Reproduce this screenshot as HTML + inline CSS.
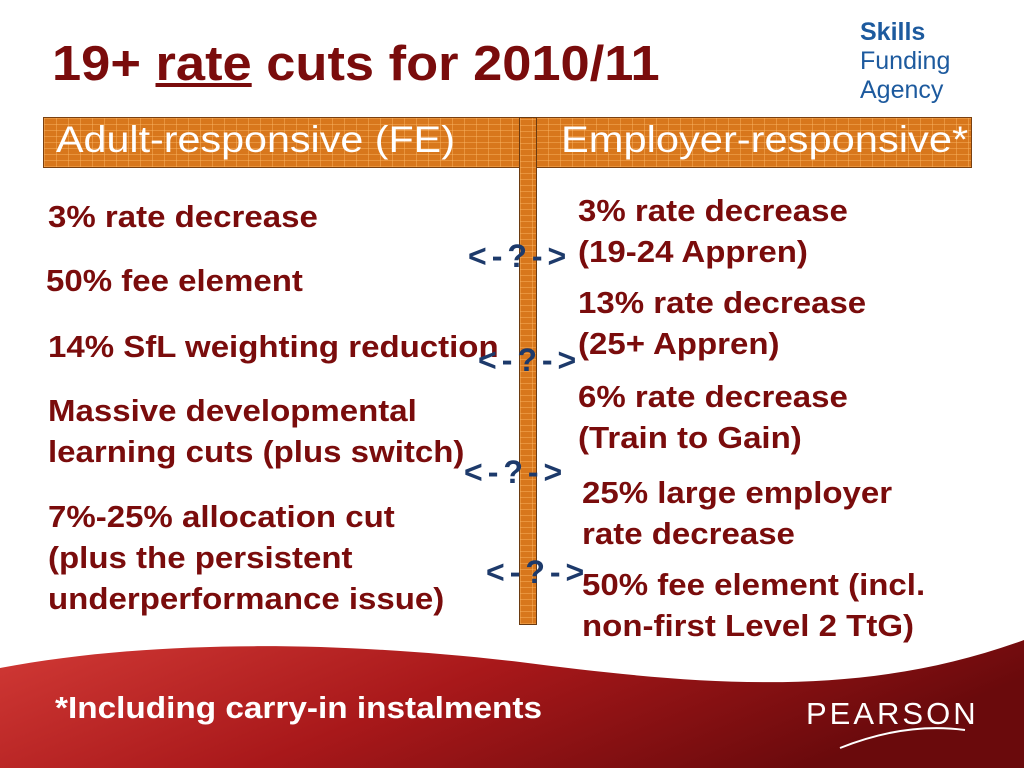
<!DOCTYPE html>
<html><head><meta charset="utf-8"><style>
body{margin:0;width:1024px;height:768px;overflow:hidden;background:#fff;position:relative;font-family:"Liberation Sans",sans-serif}
.t{position:absolute;color:#7a0c0c;font-weight:bold;font-size:31px;line-height:41px;white-space:nowrap;transform:scaleX(1.065);transform-origin:left top}
.q{position:absolute;color:#1d3a6b;font-weight:bold;font-size:32px;white-space:nowrap;letter-spacing:5px}
.brick{background-color:#d8771c;background-image:repeating-linear-gradient(0deg,rgba(255,190,110,.4) 0 1px,transparent 1px 6px),repeating-linear-gradient(90deg,rgba(255,190,110,.4) 0 1px,transparent 1px 12px)}
</style></head><body>
<div style="position:absolute;left:52px;top:36px;font-size:49px;font-weight:bold;color:#7a0c0c;white-space:nowrap;transform:scaleX(1.07);transform-origin:left top">19+ <span style="text-decoration:underline">rate</span> cuts for 2010/11</div>
<div style="position:absolute;left:860px;top:18px;color:#1d5a9e;font-size:25px;line-height:29px"><b>Skills</b><br>Funding<br>Agency</div>
<div class="brick" style="position:absolute;left:43px;top:117px;width:929px;height:51px;border:1px solid #7a4010;box-sizing:border-box"></div>
<div class="brick" style="position:absolute;left:519px;top:117px;width:18px;height:508px;border:1px solid #6a3a10;box-sizing:border-box"></div>
<div style="position:absolute;left:56px;top:119px;color:#fff;font-size:37px;white-space:nowrap;transform:scaleX(1.115);transform-origin:left top">Adult-responsive (FE)</div>
<div style="position:absolute;left:561px;top:119px;color:#fff;font-size:37px;white-space:nowrap;transform:scaleX(1.125);transform-origin:left top">Employer-responsive*</div>
<div class="t" style="left:48px;top:196px">3% rate decrease</div>
<div class="t" style="left:46px;top:260px">50% fee element</div>
<div class="t" style="left:48px;top:326px">14% SfL weighting reduction</div>
<div class="t" style="left:48px;top:390px">Massive developmental<br>learning cuts (plus switch)</div>
<div class="t" style="left:48px;top:496px">7%-25% allocation cut<br>(plus the persistent<br>underperformance issue)</div>
<div class="t" style="left:578px;top:190px">3% rate decrease<br>(19-24 Appren)</div>
<div class="t" style="left:578px;top:282px">13% rate decrease<br>(25+ Appren)</div>
<div class="t" style="left:578px;top:376px">6% rate decrease<br>(Train to Gain)</div>
<div class="t" style="left:582px;top:472px">25% large employer<br>rate decrease</div>
<div class="t" style="left:582px;top:564px">50% fee element (incl.<br>non-first Level 2 TtG)</div>
<div class="q" style="left:468px;top:238px">&lt;-?-&gt;</div>
<div class="q" style="left:478px;top:342px">&lt;-?-&gt;</div>
<div class="q" style="left:464px;top:454px">&lt;-?-&gt;</div>
<div class="q" style="left:486px;top:554px">&lt;-?-&gt;</div>
<svg style="position:absolute;left:0;top:0" width="1024" height="768">
<defs><linearGradient id="g" x1="0" y1="0" x2="1" y2="0.3"><stop offset="0" stop-color="#d23a36"/><stop offset="0.5" stop-color="#a8181a"/><stop offset="1" stop-color="#6a0a0c"/></linearGradient></defs>
<path d="M0,668 C150,640 330,640 520,662 C700,685 860,700 1024,640 L1024,768 L0,768 Z" fill="url(#g)"/>
<path d="M840,748 Q905,722 965,730" stroke="#fff" stroke-width="2" fill="none"/>
</svg>
<div style="position:absolute;left:55px;top:690px;color:#fff;font-size:31px;font-weight:bold;white-space:nowrap;transform:scaleX(1.075);transform-origin:left top">*Including carry-in instalments</div>
<div style="position:absolute;left:806px;top:696px;color:#fff;font-size:31px;letter-spacing:3px">PEARSON</div>
</body></html>
